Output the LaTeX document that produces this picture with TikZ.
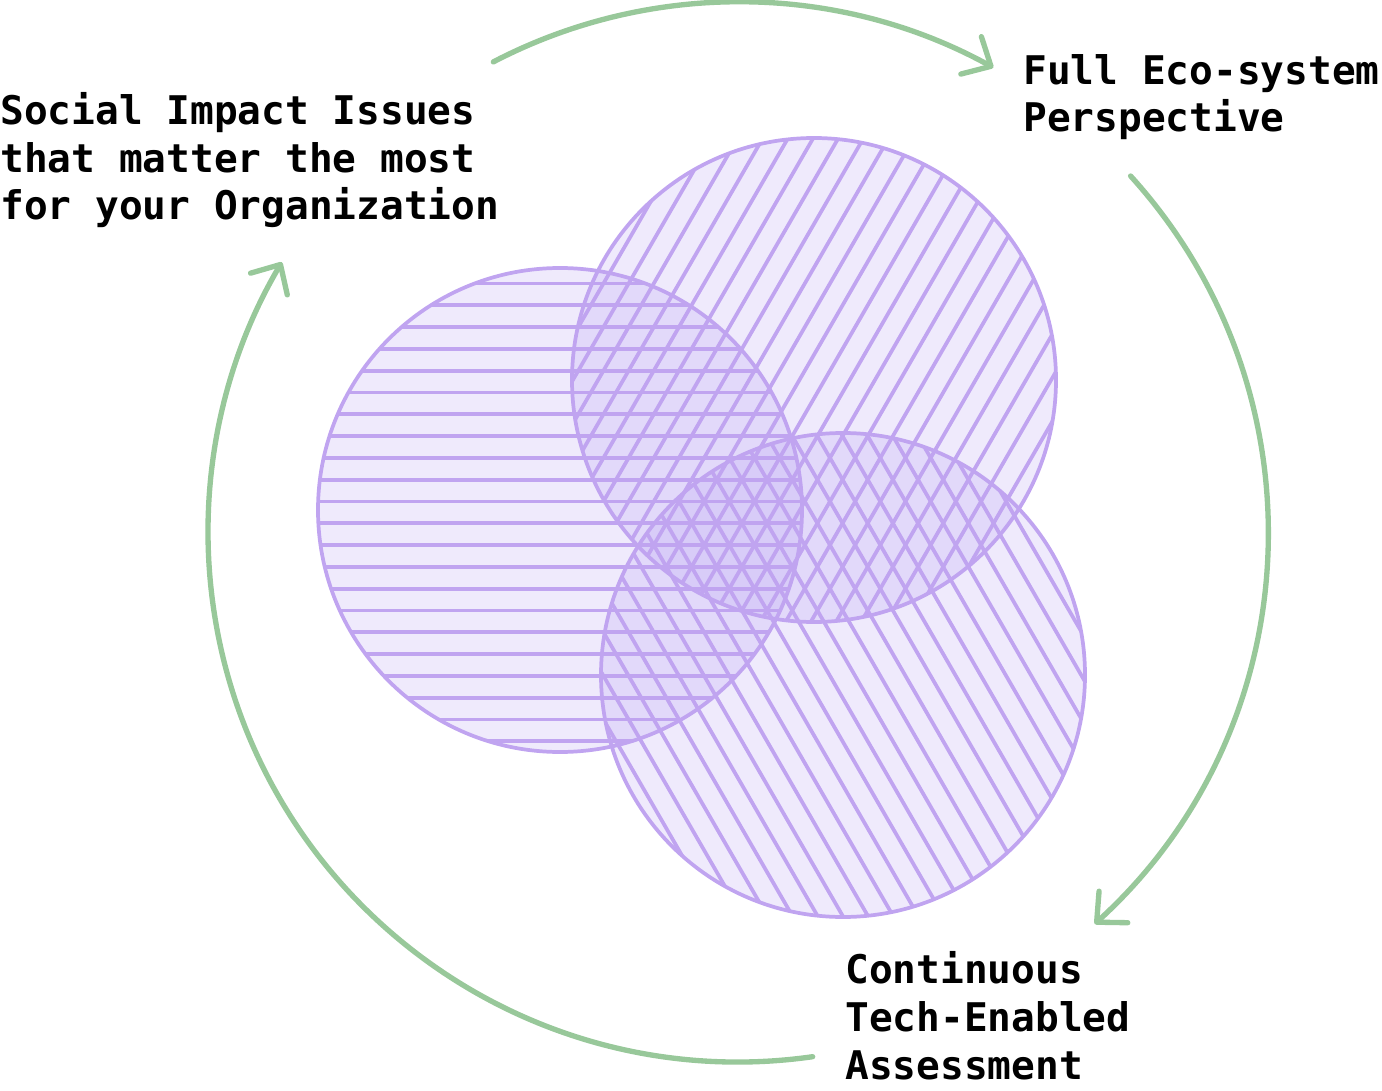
\documentclass[tikz,border=0pt]{standalone}
\usepackage{fontspec}
\setmonofont{DejaVu Sans Mono}
\usetikzlibrary{arrows.meta,calc}
\definecolor{venn}{RGB}{175,150,240}
\definecolor{hatch}{RGB}{192,164,240}
\definecolor{cycle}{RGB}{152,200,154}

\begin{document}
\begin{tikzpicture}[%
      x=0.75pt, y=-0.75pt,
      disc/.style={fill=venn, fill opacity=0.2},
      rim/.style={color=hatch, line width=2.8pt},
      ring/.style={color=cycle, line width=4pt, line cap=round,
        -{Straight Barb[length=17pt, width=32pt, round]}},
      blurb/.style={anchor=base west, inner sep=0pt, align=left,
        font=\fontsize{29.6}{35.8}\selectfont\ttfamily\bfseries},
      ]
      \useasboundingbox (0,0) rectangle (1382,1091);

      \coordinate (social) at (560,510);
      \coordinate (eco) at (814,380);
      \coordinate (tech) at (843,675);
      \coordinate (hub) at (738,532);

      \fill [disc] (social) circle (242);
      \fill [disc] (eco) circle (242);
      \fill [disc] (tech) circle (242);

      \begin{scope}
        \clip (social) circle (242);
        \foreach \k in {0,...,21}
          \draw [rim] (300,283.5+21.8*\k) -- (820,283.5+21.8*\k);
      \end{scope}
      \begin{scope}
        \clip (eco) circle (242);
        \foreach \m in {-9,...,14}
          \draw [rim] ({804.8+25.17*\m+100},110.3) -- ({804.8+25.17*\m-200},629.9);
      \end{scope}
      \begin{scope}
        \clip (tech) circle (242);
        \foreach \m in {-19,...,4}
          \draw [rim] ({804.8+25.17*\m},283.5) -- ({804.8+25.17*\m+400},976.3);
      \end{scope}

      \draw [rim] (social) circle (242);
      \draw [rim] (eco) circle (242);
      \draw [rim] (tech) circle (242);

      \coordinate (to eco) at ($(hub)+(-117.5:530)$);
      \coordinate (to tech) at ($(hub)+(-42.2:530)$);
      \coordinate (to social) at ($(hub)+(81.9:530)$);
      \draw [ring] (to eco) arc [start angle=-117.5, end angle=-61.2, radius=530];
      \draw [ring] (to tech) arc [start angle=-42.2, end angle=47.7, radius=530];
      \draw [ring] (to social) arc [start angle=81.9, end angle=210.6, radius=530];

      \node [blurb] (social text) at (0,220) {Social Impact Issues\\that matter the most\\for your Organization};
      \node [blurb] (eco text) at (1023,132) {Full Eco-system\\Perspective};
      \node [blurb] (tech text) at (845,1079) {Continuous\\Tech-Enabled\\Assessment};
\end{tikzpicture}
\end{document}
